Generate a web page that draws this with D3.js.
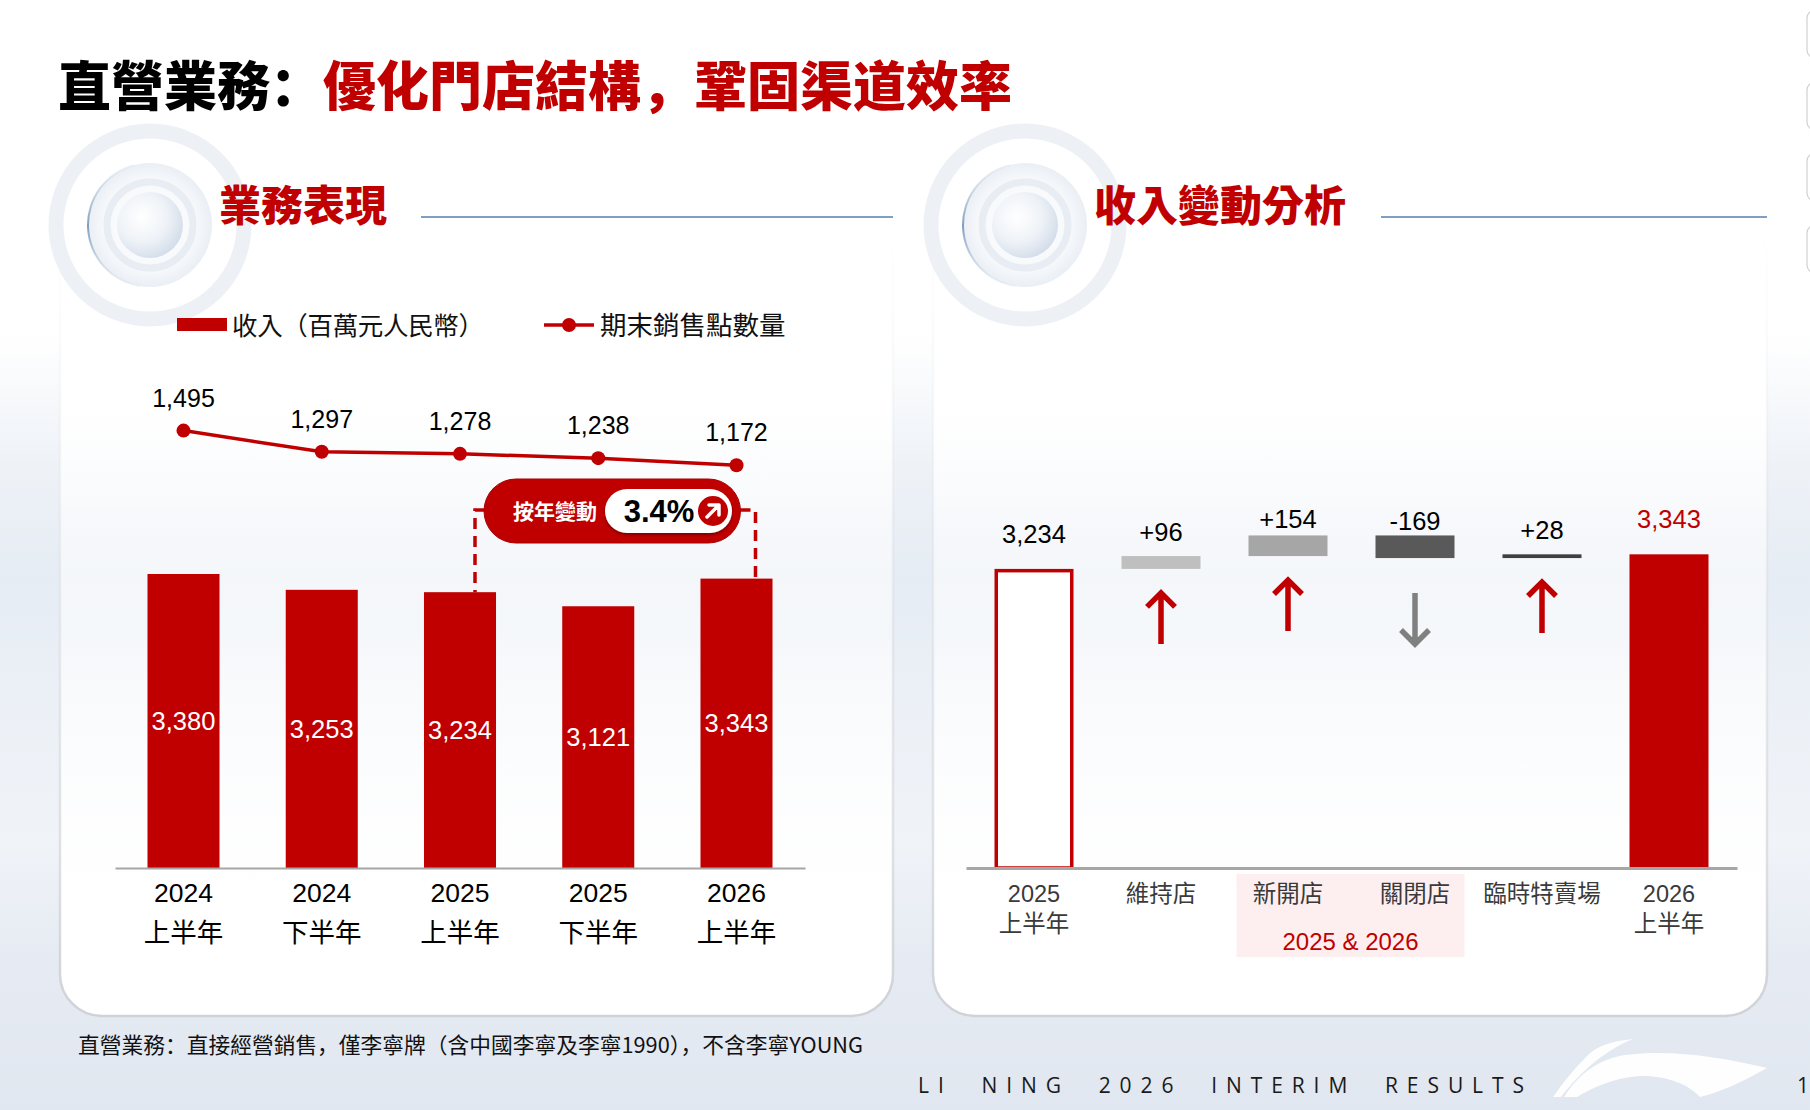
<!DOCTYPE html>
<html><head><meta charset="utf-8">
<script src="https://cdn.jsdelivr.net/npm/d3@7"></script>
<style>
html,body{margin:0;padding:0;background:#fff;overflow:hidden;}
svg{display:block;}
</style></head><body>
<svg id="c" width="1810" height="1110"></svg>
<script>
// ---------------- DATA ----------------
const pageTitleBlack = "直營業務：";
const pageTitleRed = "優化門店結構，鞏固渠道效率";
const leftHeader = "業務表現";
const rightHeader = "收入變動分析";
const legendLabels = ["收入（百萬元人民幣）", "期末銷售點數量"];
const leftCategories = [["2024","上半年"],["2024","下半年"],["2025","上半年"],["2025","下半年"],["2026","上半年"]];
const revenue = [3380, 3253, 3234, 3121, 3343];
const storeCount = [1495, 1297, 1278, 1238, 1172];
const yoyLabel = "按年變動";
const yoyChange = "3.4%";
const rightCategories = [["2025","上半年"],["維持店"],["新開店"],["關閉店"],["臨時特賣場"],["2026","上半年"]];
const startRevenue = 3234;
const revenueChanges = [96, 154, -169, 28];
const endRevenue = 3343;
const groupLabel = "2025 & 2026";
const footnote = "直營業務：直接經營銷售，僅李寧牌（含中國李寧及李寧1990），不含李寧YOUNG";
const footerBrand = "LI  NING  2026  INTERIM  RESULTS";

// ---------------- STYLE ----------------
const RED = "#c00000";
const CJK = "'Noto Sans CJK TC','Noto Sans CJK SC','Noto Sans',sans-serif";
const CJKP = "'Noto Sans CJK SC','Noto Sans CJK TC','Noto Sans',sans-serif";
const NUM = "'Liberation Sans',Arial,'DejaVu Sans',sans-serif";
const deltaColors = ["#bfbfbf", "#a6a6a6", "#595959", "#3f3f3f"];

const svg = d3.select("#c");
const defs = svg.append("defs");
function lin(id, stops, x2 = 0, y2 = 1) {
  const g = defs.append("linearGradient").attr("id", id)
    .attr("x1", 0).attr("y1", 0).attr("x2", x2).attr("y2", y2);
  stops.forEach(s => g.append("stop").attr("offset", s[0]).attr("stop-color", s[1]).attr("stop-opacity", s[2] ?? 1));
}
lin("bg", [[0,"#ffffff"],[0.30,"#ffffff"],[0.42,"#eef2f7"],[0.52,"#e6ecf4"],[0.62,"#ebf0f6"],[0.76,"#f0f3f8"],[0.86,"#e6ebf3"],[1,"#e1e7f0"]]);
lin("panelFill", [[0,"#ffffff",1],[0.25,"#ffffff",0.95],[0.38,"#ffffff",0.6],[0.52,"#ffffff",0.55],[0.68,"#ffffff",0.8],[0.85,"#ffffff",1],[1,"#ffffff",1]]);
lin("panelStroke", [[0,"#d4d8de",0],[0.35,"#d4d8de",0.25],[0.8,"#d2d5da",0.7],[1,"#cfd2d6",1]]);
const rg = defs.append("radialGradient").attr("id","disk").attr("cx","0.5").attr("cy","0.5").attr("r","0.5");
rg.append("stop").attr("offset",0).attr("stop-color","#ffffff");
rg.append("stop").attr("offset",0.75).attr("stop-color","#f6f8fb");
rg.append("stop").attr("offset",1).attr("stop-color","#eaeff5");
const sg = defs.append("radialGradient").attr("id","sphere").attr("cx","0.38").attr("cy","0.38").attr("r","0.7");
sg.append("stop").attr("offset",0).attr("stop-color","#ffffff");
sg.append("stop").attr("offset",0.55).attr("stop-color","#eef2f7");
sg.append("stop").attr("offset",1).attr("stop-color","#cfdae7");
lin("arcGrad", [[0,"#c9d6e4",0.2],[0.5,"#7f9cbd",1],[1,"#c9d6e4",0.2]]);
const sh = defs.append("filter").attr("id","pillShadow").attr("x","-20%").attr("y","-30%").attr("width","140%").attr("height","170%");
sh.append("feDropShadow").attr("dx",0).attr("dy",2).attr("stdDeviation",1.5).attr("flood-color","#000").attr("flood-opacity",0.35);

// background
svg.append("rect").attr("width",1810).attr("height",1110).attr("fill","url(#bg)");

// right edge tabs
[10, 82, 153, 225].forEach(y => {
  svg.append("rect").attr("x",1807).attr("y",y).attr("width",20).attr("height",48).attr("rx",8)
    .attr("fill","#ffffff").attr("stroke","#d0d0d0").attr("stroke-width",1.2);
});

// panels
[[60, 833], [933, 834]].forEach(([x, w]) => {
  svg.append("rect").attr("x",x).attr("y",215).attr("width",w).attr("height",801).attr("rx",42)
    .attr("fill","url(#panelFill)").attr("stroke","url(#panelStroke)").attr("stroke-width",2.5);
});

// decorations
function deco(cx, cy) {
  const g = svg.append("g");
  g.append("circle").attr("cx",cx).attr("cy",cy).attr("r",94).attr("fill","none")
    .attr("stroke","#edf1f6").attr("stroke-width",15);
  g.append("circle").attr("cx",cx).attr("cy",cy).attr("r",86).attr("fill","#ffffff").attr("opacity",0.7);
  g.append("circle").attr("cx",cx).attr("cy",cy).attr("r",62).attr("fill","url(#disk)");
  const arc = d3.arc().innerRadius(61).outerRadius(63).startAngle(-Math.PI*0.95).endAngle(-Math.PI*0.08);
  g.append("path").attr("transform",`translate(${cx},${cy})`).attr("d",arc()).attr("fill","url(#arcGrad)");
  g.append("circle").attr("cx",cx).attr("cy",cy).attr("r",43).attr("fill","none")
    .attr("stroke","#e8edf3").attr("stroke-width",7);
  g.append("circle").attr("cx",cx).attr("cy",cy).attr("r",33).attr("fill","url(#sphere)");
}
deco(150, 225);
deco(1025, 225);

// title
const title = svg.append("text").attr("x",58).attr("y",83).attr("dominant-baseline","central")
  .attr("font-family",CJKP).attr("font-weight",900).attr("font-size",53);
title.append("tspan").attr("fill","#000").text(pageTitleBlack);
title.append("tspan").attr("fill",RED).text(pageTitleRed);

// section headers
[[219, leftHeader, 421, 893], [1094, rightHeader, 1381, 1767]].forEach(([x, t, l1, l2]) => {
  svg.append("text").attr("x",x).attr("y",202).attr("dominant-baseline","central")
    .attr("font-family",CJK).attr("font-weight",900).attr("font-size",42).attr("fill",RED).text(t);
  svg.append("line").attr("x1",l1).attr("x2",l2).attr("y1",217).attr("y2",217)
    .attr("stroke","#7f9fc4").attr("stroke-width",2);
});

// ---------------- LEFT CHART ----------------
const L = svg.append("g");
const leftKeys = leftCategories.map(d => d.join(""));
const xL = d3.scaleBand().domain(leftKeys).range([115, 805]).paddingInner(0.479).paddingOuter(0.235);
const yL = d3.scaleLinear().domain([1020, 3380]).range([868, 574]);
const yS = d3.scaleLinear().domain([1172, 1495]).range([465.2, 430.6]);
const cxL = i => xL(leftKeys[i]) + xL.bandwidth() / 2;
const fmt = d3.format(",");

// legend
L.append("rect").attr("x",177).attr("y",318).attr("width",50).attr("height",13).attr("fill",RED);
L.append("text").attr("x",232).attr("y",325.5).attr("dy","0.36em").attr("font-family",CJK)
  .attr("font-size",25.5).attr("fill","#111").attr("textLength",252).attr("lengthAdjust","spacing").text(legendLabels[0]);
L.append("line").attr("x1",544).attr("x2",594).attr("y1",325).attr("y2",325).attr("stroke",RED).attr("stroke-width",3.5);
L.append("circle").attr("cx",569).attr("cy",325).attr("r",7).attr("fill",RED);
L.append("text").attr("x",600).attr("y",325.5).attr("dy","0.36em").attr("font-family",CJK)
  .attr("font-size",26.5).attr("fill","#111").text(legendLabels[1]);

// bars
L.selectAll("rect.bar").data(revenue).join("rect").attr("class","bar")
  .attr("x",(d,i) => xL(leftKeys[i])).attr("y",d => yL(d))
  .attr("width",xL.bandwidth()).attr("height",d => yL(1020) - yL(d)).attr("fill",RED);
L.selectAll("text.barv").data(revenue).join("text").attr("class","barv")
  .attr("x",(d,i) => cxL(i)).attr("y",d => (yL(d) + yL(1020)) / 2).attr("dy","0.36em")
  .attr("text-anchor","middle").attr("font-family",NUM).attr("font-size",25.5).attr("fill","#fff")
  .text(d => fmt(d));

// axis
const axL = L.append("g").attr("transform","translate(0,868)")
  .call(d3.axisBottom(xL).tickSize(0).tickSizeOuter(0).tickFormat(""));
axL.select(".domain").attr("stroke","#a6a6a6").attr("stroke-width",2);
axL.selectAll(".tick").remove();
const lblL = L.selectAll("g.lbl").data(leftCategories).join("g").attr("class","lbl");
lblL.append("text").attr("x",(d,i) => cxL(i)).attr("y",892).attr("dy","0.36em").attr("text-anchor","middle")
  .attr("font-family",NUM).attr("font-size",26.5).attr("fill","#000").text(d => d[0]);
lblL.append("text").attr("x",(d,i) => cxL(i)).attr("y",932).attr("dy","0.36em").attr("text-anchor","middle")
  .attr("font-family",CJK).attr("font-size",26.5).attr("fill","#000").text(d => d[1]);

// dashed connectors + pill
const dashLX = cxL(2) + 15, dashRX = cxL(4) + 19, pillY = 511;
L.append("path").attr("d",`M${dashLX + 10},${pillY - 1}H${dashLX}V${yL(revenue[2])}`)
  .attr("fill","none").attr("stroke",RED).attr("stroke-width",3.5).attr("stroke-dasharray","11,7");
L.append("path").attr("d",`M${dashRX - 16},${pillY - 1}H${dashRX}V${yL(revenue[4])}`)
  .attr("fill","none").attr("stroke",RED).attr("stroke-width",3.5).attr("stroke-dasharray","11,7");
const pillX1 = dashLX + 9, pillX2 = dashRX - 15;
L.append("rect").attr("x",pillX1).attr("y",pillY - 32).attr("width",pillX2 - pillX1).attr("height",64).attr("rx",32)
  .attr("fill",RED).attr("stroke","#a80000").attr("stroke-width",1);
L.append("rect").attr("x",pillX1 + 121).attr("y",pillY - 22).attr("width",127).attr("height",44).attr("rx",22)
  .attr("fill","#fff").attr("filter","url(#pillShadow)");
L.append("text").attr("x",pillX1 + 71).attr("y",pillY).attr("dy","0.36em").attr("text-anchor","middle")
  .attr("font-family",CJK).attr("font-weight",700).attr("font-size",21).attr("fill","#fff").text(yoyLabel);
L.append("text").attr("x",pillX1 + 175).attr("y",pillY).attr("dy","0.36em").attr("text-anchor","middle")
  .attr("font-family",NUM).attr("font-weight",700).attr("font-size",31).attr("fill","#000").text(yoyChange);
const icx = pillX1 + 229;
L.append("circle").attr("cx",icx).attr("cy",pillY).attr("r",15).attr("fill",RED);
L.append("path").attr("d",`M${icx-6},${pillY+6}L${icx+5},${pillY-5}M${icx-4},${pillY-6}H${icx+6}V${pillY+4}`)
  .attr("fill","none").attr("stroke","#fff").attr("stroke-width",3.5).attr("stroke-linecap","round").attr("stroke-linejoin","round");

// line series
const line = d3.line().x((d,i) => cxL(i)).y(d => yS(d));
L.append("path").datum(storeCount).attr("d",line).attr("fill","none").attr("stroke",RED).attr("stroke-width",3.5);
L.selectAll("circle.pt").data(storeCount).join("circle").attr("class","pt")
  .attr("cx",(d,i) => cxL(i)).attr("cy",d => yS(d)).attr("r",7).attr("fill",RED);
L.selectAll("text.ptv").data(storeCount).join("text").attr("class","ptv")
  .attr("x",(d,i) => cxL(i)).attr("y",d => yS(d) - 33).attr("dy","0.36em").attr("text-anchor","middle")
  .attr("font-family",NUM).attr("font-size",25).attr("fill","#000").text(d => fmt(d));

// ---------------- RIGHT CHART ----------------
const R = svg.append("g");
const rightKeys = rightCategories.map(d => d.join(""));
const xR = d3.scaleBand().domain(rightKeys).range([966, 1737]).paddingInner(0.378).paddingOuter(0.2245);
const yR = d3.scaleLinear().domain([1000, 3500]).range([868, 533.3]);
const cxR = i => xR(rightKeys[i]) + xR.bandwidth() / 2;

// group background
const gx1 = xR(rightKeys[2]) - 12, gx2 = xR(rightKeys[3]) + xR.bandwidth() + 10;
R.append("rect").attr("x",gx1).attr("y",874).attr("width",gx2 - gx1).attr("height",83).attr("fill","#fdeff0");

// totals
R.append("rect").attr("x",xR(rightKeys[0]) + 1.75).attr("y",yR(startRevenue) + 1.75)
  .attr("width",xR.bandwidth() - 3.5).attr("height",yR(1000) - yR(startRevenue) - 1.75)
  .attr("fill","#fff").attr("stroke",RED).attr("stroke-width",3.5);
R.append("rect").attr("x",xR(rightKeys[5])).attr("y",yR(endRevenue))
  .attr("width",xR.bandwidth()).attr("height",yR(1000) - yR(endRevenue)).attr("fill",RED);
R.append("text").attr("x",cxR(0)).attr("y",yR(startRevenue) - 35).attr("dy","0.36em").attr("text-anchor","middle")
  .attr("font-family",NUM).attr("font-size",25.5).attr("fill","#000").text(fmt(startRevenue));
R.append("text").attr("x",cxR(5)).attr("y",yR(endRevenue) - 35).attr("dy","0.36em").attr("text-anchor","middle")
  .attr("font-family",NUM).attr("font-size",25.5).attr("fill",RED).text(fmt(endRevenue));

// deltas
let cum = startRevenue;
const steps = revenueChanges.map((d, i) => { const from = cum; cum += d; return {d, from, to: cum, i: i + 1}; });
steps.forEach((s, k) => {
  const top = yR(Math.max(s.from, s.to)), bot = yR(Math.min(s.from, s.to));
  const x = cxR(s.i);
  R.append("rect").attr("x",xR(rightKeys[s.i])).attr("y",top).attr("width",xR.bandwidth())
    .attr("height",bot - top).attr("fill",deltaColors[k]);
  R.append("text").attr("x",x).attr("y",Math.max(top - 24, bot - 37)).attr("dy","0.36em").attr("text-anchor","middle")
    .attr("font-family",NUM).attr("font-size",25.5).attr("fill","#000").text((s.d > 0 ? "+" : "") + s.d);
  if (s.d > 0) {
    const a = bot + 23;
    R.append("path").attr("d",`M${x},${a + 52}V${a + 2}M${x - 14},${a + 15}L${x},${a + 1}L${x + 14},${a + 15}`)
      .attr("fill","none").attr("stroke",RED).attr("stroke-width",5.5);
  } else {
    const a = bot + 35;
    R.append("path").attr("d",`M${x},${a}V${a + 50}M${x - 14},${a + 37}L${x},${a + 51}L${x + 14},${a + 37}`)
      .attr("fill","none").attr("stroke","#808080").attr("stroke-width",5.5);
  }
});

// axis
const axR = R.append("g").attr("transform","translate(0,868)")
  .call(d3.axisBottom(xR).tickSize(0).tickSizeOuter(0).tickFormat(""));
axR.select(".domain").attr("stroke","#a6a6a6").attr("stroke-width",3);
axR.selectAll(".tick").remove();
const lblR = R.selectAll("g.lbl").data(rightCategories).join("g").attr("class","lbl");
lblR.append("text").attr("x",(d,i) => cxR(i)).attr("y",894).attr("dy","0.36em").attr("text-anchor","middle")
  .attr("font-family",d => /^\d/.test(d[0]) ? NUM : CJK).attr("font-size",23.5).attr("fill","#3a3a3a").text(d => d[0]);
lblR.filter(d => d.length > 1).append("text").attr("x",d => cxR(rightCategories.indexOf(d))).attr("y",924).attr("dy","0.36em")
  .attr("text-anchor","middle").attr("font-family",CJK).attr("font-size",23.5).attr("fill","#3a3a3a").text(d => d[1]);
R.append("text").attr("x",(gx1 + gx2) / 2).attr("y",941).attr("dy","0.36em").attr("text-anchor","middle")
  .attr("font-family",NUM).attr("font-size",24).attr("fill",RED).text(groupLabel);

// ---------------- FOOTER ----------------
svg.append("text").attr("x",78).attr("y",1045).attr("dy","0.36em").attr("font-family",CJKP)
  .attr("font-size",21.5).attr("fill","#111").attr("textLength",785).attr("lengthAdjust","spacingAndGlyphs").text(footnote);
svg.append("text").attr("x",918).attr("y",1093).attr("font-family","'Open Sans','DejaVu Sans',sans-serif")
  .attr("font-size",21).attr("fill","#1a1a1a").attr("textLength",606).attr("lengthAdjust","spacing")
  .attr("xml:space","preserve").style("white-space","pre").text(footerBrand);
// logo swoosh
svg.append("path").attr("d","M1633,1039 C1612,1041 1598,1046 1589,1054 C1575,1068 1563,1082 1553,1097 L1561,1097 C1576,1078 1600,1052 1633,1039 Z")
  .attr("fill","#ffffff").attr("opacity",0.95);
svg.append("path").attr("d","M1564,1097 C1580,1072 1600,1059 1625,1055 C1670,1049 1722,1057 1767,1068 C1745,1080 1722,1092 1700,1097 C1690,1085 1666,1075 1640,1076 C1612,1078 1592,1088 1577,1097 Z")
  .attr("fill","#ffffff").attr("opacity",0.95);
svg.append("text").attr("x",1797).attr("y",1093).attr("font-family","'Open Sans',sans-serif").attr("font-size",21).attr("fill","#1a1a1a").text("1");
</script>
</body></html>
